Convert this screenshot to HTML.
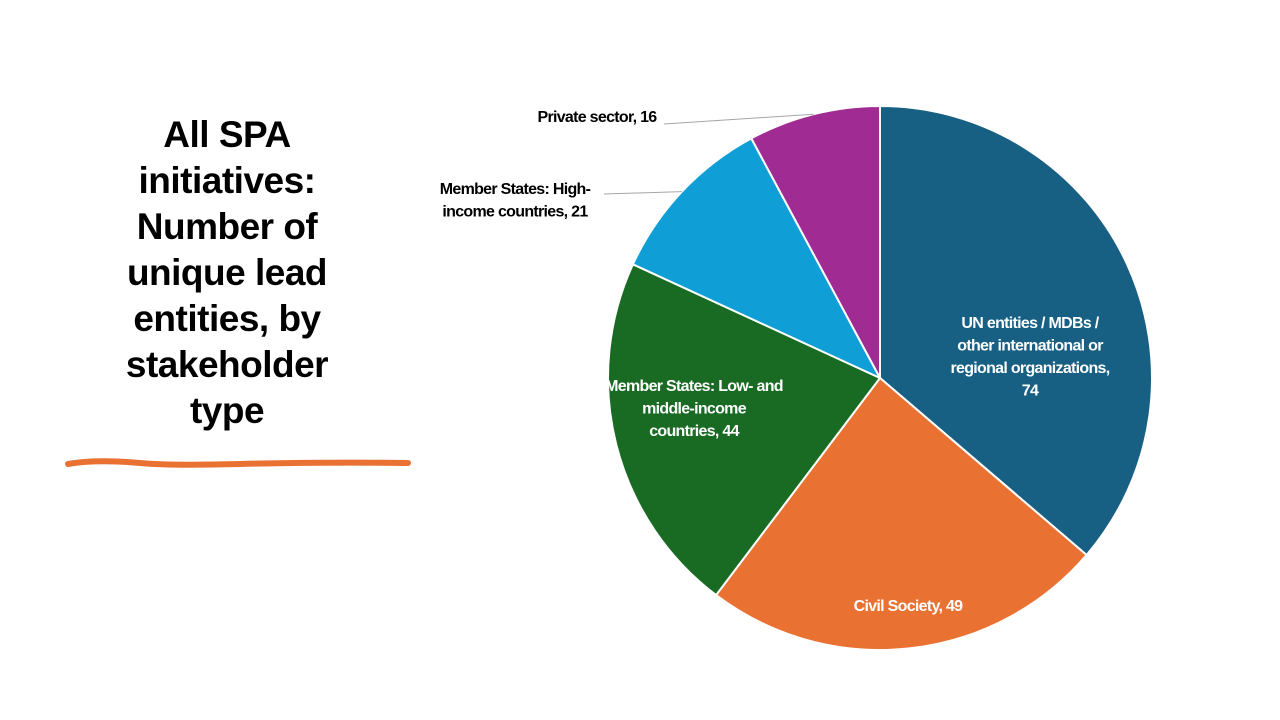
<!DOCTYPE html>
<html><head><meta charset="utf-8"><style>
html,body{margin:0;padding:0;background:#fff;width:1280px;height:720px;overflow:hidden}
.title{position:absolute;left:92px;top:112px;width:270px;text-align:center;font-family:"Liberation Sans",sans-serif;font-weight:bold;font-size:37px;line-height:46px;color:#000;letter-spacing:-0.5px}
svg{position:absolute;left:0;top:0}
.lbl{font-family:"Liberation Sans Narrow","Liberation Sans",Arial,sans-serif;font-weight:bold;font-size:16px;letter-spacing:-0.7px}
</style></head><body>
<div class="title">All SPA initiatives: Number of unique lead entities, by stakeholder type</div>
<svg width="1280" height="720" id="chart">
<path d="M68 464 C 90 460, 120 461, 140 463 S 200 465, 240 464 S 330 462, 408 463" stroke="#E97132" stroke-width="6" fill="none" stroke-linecap="round"/>
</svg>
<script>
const categories=["UN entities / MDBs / other international or regional organizations","Civil Society","Member States: Low- and middle-income countries","Member States: High-income countries","Private sector"];
const values=[74,49,44,21,16];
const colors=["#185F84","#E97132","#196B24","#0F9ED5","#A02B93"];
const labelLines=[["UN entities / MDBs /","other international or","regional organizations,","74"],["Civil Society, 49"],["Member States: Low- and","middle-income","countries, 44"],["Member States: High-","income countries, 21"],["Private sector, 16"]];
const svg=document.getElementById('chart');
const NS="http://www.w3.org/2000/svg";
const cx=880,cy=378,r=272;
const total=values.reduce((a,b)=>a+b,0);
function pt(a,rad){return [cx+rad*Math.sin(a),cy-rad*Math.cos(a)];}
let acc=0;
const labelPos=[[1030,328],[908,611],[694,391],[515,194],[597,122]];
const inside=[true,true,true,false,false];
values.forEach((v,i)=>{
  const a0=acc/total*2*Math.PI; acc+=v; const a1=acc/total*2*Math.PI;
  const p0=pt(a0,r),p1=pt(a1,r);
  const large=(a1-a0)>Math.PI?1:0;
  const path=document.createElementNS(NS,'path');
  path.setAttribute('d',`M${cx} ${cy} L${p0[0]} ${p0[1]} A${r} ${r} 0 ${large} 1 ${p1[0]} ${p1[1]} Z`);
  path.setAttribute('fill',colors[i]);path.setAttribute('stroke','#fff');path.setAttribute('stroke-width','2');
  
  
  svg.appendChild(path);
  const am=(a0+a1)/2;
  if(!inside[i]){
    const e=pt(am,r);
    const lx=i==3?604:664, ly=i==3?194:124;
    const ln=document.createElementNS(NS,'polyline');
    ln.setAttribute('points',`${lx},${ly} ${e[0]},${e[1]}`);
    ln.setAttribute('stroke','#A6A6A6');ln.setAttribute('fill','none');ln.setAttribute('stroke-width','1');
    
    
    svg.appendChild(ln);
  }
  const t=document.createElementNS(NS,'text');
  t.setAttribute('class','lbl');
  t.setAttribute('text-anchor','middle');
  t.setAttribute('fill',inside[i]?'#fff':'#000');
  
  
  const lines=labelLines[i];
  lines.forEach((s,k)=>{
    const ts=document.createElementNS(NS,'tspan');
    ts.setAttribute('x',labelPos[i][0]);
    ts.setAttribute('y',labelPos[i][1]+k*22.5);
    ts.textContent=s;t.appendChild(ts);
  });
  svg.appendChild(t);
});
</script>
</body></html>
